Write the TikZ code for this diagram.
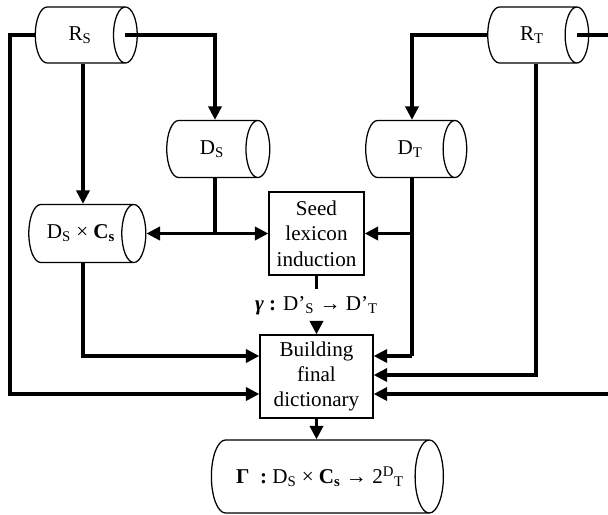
\documentclass[tikz,border=0pt]{standalone}
\usepackage{fontspec}
\setmainfont{Liberation Serif}
\usetikzlibrary{shapes.geometric, arrows.meta, calc}

\begin{document}
\begin{tikzpicture}[x=0.025cm, y=-0.025cm,
  every node/.style={font=\fontsize{15}{18}\selectfont},
  store/.style={cylinder, draw, line width=0.9pt, aspect=1.4, inner sep=0pt, align=center},
  task/.style={rectangle, draw, line width=0.9pt, inner sep=0pt, align=center},
  link/.style={line width=2.4pt, -{Triangle[length=0.34cm, width=0.33cm]}},
  bare/.style={line width=2.4pt}]
\def\px{0.025cm}
\useasboundingbox (0,0) rectangle (608,515);
\clip (0,0) rectangle (608,515);

% columns and rows of the connectors
\coordinate (left) at (10,0);
\coordinate (right) at (611,0);
\coordinate (colDS) at (215,0);
\coordinate (colDT) at (412,0);
\coordinate (colRS) at (83,0);
\coordinate (colRT) at (536,0);
\coordinate (rowA) at (0,356);
\coordinate (rowB) at (0,375);
\coordinate (rowC) at (0,394);

% stores (the cylinder takes its length as height)
\node[store, minimum height=102*\px, minimum width=56*\px] (RS) at (80,35) {R\textsubscript{S}};
\node[store, minimum height=101*\px, minimum width=56*\px] (RT) at (532,35) {R\textsubscript{T}};
\node[store, minimum height=103*\px, minimum width=57*\px] (DS) at (212,149) {D\textsubscript{S}};
\node[store, minimum height=101*\px, minimum width=57*\px] (DT) at (410,149) {D\textsubscript{T}};
\node[store, minimum height=117*\px, minimum width=58*\px] (DSC) at (81,233.5)
  {D\textsubscript{S} × \textbf{C}\textsubscript{\textbf{s}}};
\node[store, minimum height=232*\px, minimum width=73*\px] (final) at (320,476.5)
  {\textbf{Γ}\ \ \textbf{:} D\textsubscript{S} × \textbf{C}\textsubscript{\textbf{s}} → 2\textsuperscript{D}\textsubscript{T}};

% tasks
\node[task, minimum width=95*\px, minimum height=83*\px] (seed) at (316.5,233.5) {Seed\\lexicon\\induction};
\node[task, minimum width=113*\px, minimum height=83*\px] (build) at (316.5,376.5) {Building\\final\\dictionary};
\node[minimum height=33*\px, inner sep=0pt] (gamma) at (316.5,305.5)
  {\textbf{\textit{γ}} \textbf{:} D’\textsubscript{S} → D’\textsubscript{T}};

% ellipse centres of the sources
\coordinate (RSend) at ($(RS.before top)!0.5!(RS.after top)$);
\coordinate (RTend) at ($(RT.before top)!0.5!(RT.after top)$);

% source side
\draw[link] (RS.west) -| (left |- rowC) -- (build.west |- rowC);
\draw[link] (RSend) -| (colDS |- DS.north);
\draw[link] (colRS |- RS.south) -- (colRS |- DSC.north);
\draw[bare] (colDS |- DS.south) -- (colDS |- seed.west);
\draw[link] (colDS |- seed.west) -- (seed.west);
\draw[link] (colDS |- seed.west) -- (DSC.east |- seed.west);
\draw[link] (colRS |- DSC.south) |- (build.west |- rowA);

% target side
\draw[link] (RT.west) -| (colDT |- DT.north);
\draw[bare] (colDT |- DT.south) -- (colDT |- rowA);
\draw[link] (colDT |- rowA) -- (build.east |- rowA);
\draw[link] (colDT |- seed.east) -- (seed.east);
\draw[link] (colRT |- RT.south) |- (build.east |- rowB);
\draw[link] (RTend) -| (right |- rowC) -- (build.east |- rowC);

% middle
\draw[bare] (seed.south) -- (gamma.north);
\draw[link] (gamma.south) -- (build.north);
\draw[link] (build.south) -- (build.south |- final.north);
\end{tikzpicture}
\end{document}
